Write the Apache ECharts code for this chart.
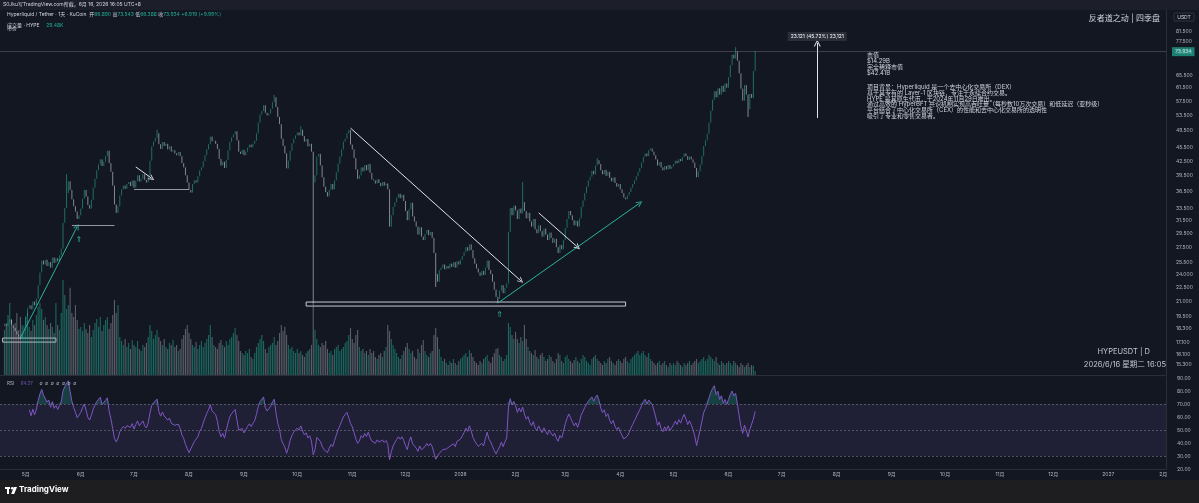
<!DOCTYPE html>
<html lang="zh">
<head>
<meta charset="UTF-8" />
<title>HYPEUSDT</title>
<script src="https://cdn.jsdelivr.net/npm/echarts@6/dist/echarts.min.js"></script>
<style>
  html, body { margin: 0; padding: 0; background: #131722; }
  #chart { width: 1199px; height: 503px; }
</style>
</head>
<body>
<div id="chart"></div>
<script>
// ---- data ----
const axisStart = '2025-04-17'
const axisEnd = '2027-02-02'
const startDate = '2025-04-19'
const firstOpen = 18.6

// daily closes, one line per month
const closes = [
  18.8, 18.6, 18.9, 19.2, 18.7, 18.4, 18.1, 17.8, 17.6, 17.4, 17.9, 18.6,
  19.5, 20.3, 20.6, 20.2, 21.0, 20.6, 21.3, 22.8, 24.3, 25.8, 25.3, 25.9, 25.1, 25.6, 24.9, 26.2, 25.5, 26.1, 25.7, 26.5, 27.4, 31.2, 33.6, 36.2, 38.4, 36.8, 35.1, 33.9, 33.0, 31.8, 32.4,
  33.5, 35.2, 36.8, 35.6, 34.1, 33.5, 35.0, 37.2, 38.9, 40.6, 41.8, 42.9, 41.5, 42.4, 43.6, 44.8, 42.1, 40.3, 37.6, 34.2, 32.8, 33.9, 35.8, 36.9, 37.6, 37.0, 37.9, 38.3, 37.5, 38.6,
  37.2, 38.5, 39.6, 38.4, 38.9, 39.8, 38.7, 38.2, 39.5, 42.6, 45.8, 46.9, 47.8, 48.9, 46.3, 45.2, 46.8, 45.9, 46.4, 45.1, 45.8, 44.6, 44.9, 44.2, 43.8, 44.5, 43.6, 42.1, 41.2, 39.6, 38.2,
  36.8, 36.3, 37.9, 38.6, 38.2, 39.4, 40.6, 41.2, 42.5, 43.8, 45.1, 46.3, 48.1, 47.0, 47.1, 46.4, 45.2, 43.0, 41.6, 42.4, 41.1, 42.8, 44.9, 46.8, 47.9, 48.6, 49.4, 47.2, 44.6, 44.1, 45.0,
  43.8, 44.6, 45.5, 46.2, 45.6, 46.4, 47.1, 48.9, 51.6, 53.8, 54.7, 56.3, 54.2, 53.5, 54.0, 55.3, 57.2, 58.6, 55.8, 53.1, 51.2, 47.6, 45.9, 44.2, 41.0, 42.6, 44.8, 46.5, 47.6, 48.4,
  49.1, 48.4, 49.8, 48.2, 46.9, 47.5, 45.8, 46.4, 44.6, 38.2, 39.6, 43.5, 44.1, 41.6, 39.2, 37.4, 36.4, 35.6, 36.8, 37.9, 36.9, 38.6, 40.2, 42.0, 43.5, 45.1, 46.9, 47.6, 48.9, 49.7, 46.2,
  45.1, 43.2, 40.8, 38.9, 39.6, 41.2, 40.4, 41.7, 40.6, 41.9, 40.1, 38.8, 38.6, 38.0, 38.8, 38.1, 37.5, 38.3, 37.6, 38.0, 36.9, 30.6, 32.4, 33.8, 34.6, 35.4, 36.1, 35.3, 35.9, 34.8,
  33.1, 31.6, 33.4, 34.5, 32.2, 31.4, 30.6, 29.4, 30.5, 29.1, 28.6, 29.5, 30.1, 29.3, 29.8, 28.9, 26.8, 24.1, 23.2, 24.6, 24.9, 25.3, 24.7, 25.1, 24.8, 25.4, 25.0, 25.6, 24.9, 25.7, 25.3,
  25.9, 26.4, 26.9, 27.6, 27.1, 28.0, 27.2, 26.1, 25.4, 24.8, 24.3, 23.9, 24.5, 24.0, 24.9, 25.8, 24.6, 24.1, 23.2, 22.3, 21.5, 21.3, 22.2, 22.8, 21.9, 22.5, 23.0, 29.8, 33.6, 32.4, 34.0,
  33.2, 31.8, 33.5, 32.7, 34.6, 33.1, 31.9, 32.8, 31.4, 30.6, 31.8, 30.2, 29.6, 30.8, 29.9, 29.1, 30.3, 29.4, 28.6, 29.7, 28.9, 28.2, 28.8, 27.6, 26.8, 27.9, 27.3, 28.6,
  30.4, 31.8, 33.1, 32.4, 31.6, 30.8, 31.5, 30.6, 31.9, 33.8, 34.9, 36.2, 37.4, 38.6, 39.3, 40.5, 39.8, 41.6, 42.7, 41.9, 40.6, 39.8, 40.7, 39.5, 40.3, 39.1, 38.4, 39.2, 38.1, 37.4, 37.9,
  36.9, 36.2, 35.4, 35.1, 35.8, 36.4, 37.2, 37.9, 38.6, 39.4, 40.3, 41.1, 42.2, 43.4, 44.2, 43.6, 44.9, 45.3, 44.6, 43.8, 42.9, 41.6, 42.3, 41.2, 40.6, 41.5, 40.8, 41.7, 40.9, 41.4,
  41.9, 42.6, 42.1, 43.0, 42.5, 43.4, 44.2, 43.6, 42.8, 43.5, 42.9, 42.2, 41.1, 39.2, 40.4, 41.8, 43.6, 45.9, 47.2, 48.8, 51.6, 54.8, 57.9, 60.4, 58.6, 61.3, 59.4, 62.1, 60.2, 62.8, 61.5,
  64.8, 68.9, 72.6, 71.2, 73.8, 70.4, 66.1, 61.2, 57.6, 62.3, 59.4, 55.2, 59.6, 58.4, 66.9, 73.934
]

// daily volume (K HYPE), one line per month
const volumes = [
  338, 375, 450, 540, 413, 360, 390, 465, 338, 435, 375, 315,
  435, 465, 360, 330, 413, 375, 450, 510, 540, 495, 413, 435, 375, 345, 390, 360, 315, 540, 375, 338, 465, 713, 600, 495, 525, 653, 465, 435, 525, 413, 345,
  360, 330, 390, 345, 315, 375, 285, 338, 390, 420, 360, 435, 330, 375, 413, 435, 345, 390, 450, 563, 465, 525, 285, 255, 225, 270, 210, 240, 195, 263,
  225, 210, 255, 195, 180, 225, 210, 240, 285, 375, 330, 270, 300, 338, 285, 255, 225, 270, 210, 195, 240, 225, 263, 210, 225, 180, 195, 270, 300, 345, 375,
  315, 270, 225, 210, 248, 195, 225, 255, 210, 240, 270, 300, 375, 285, 225, 210, 195, 240, 263, 225, 210, 255, 225, 270, 285, 315, 353, 300, 255, 180, 165,
  150, 180, 165, 195, 135, 120, 165, 210, 240, 270, 300, 255, 195, 165, 210, 225, 240, 285, 225, 255, 315, 375, 330, 360, 300, 225, 195, 210, 180, 165,
  195, 165, 180, 150, 135, 165, 180, 195, 225, 548, 338, 270, 225, 210, 240, 225, 255, 195, 165, 180, 150, 195, 210, 225, 180, 195, 210, 240, 255, 300, 353,
  270, 240, 300, 338, 210, 180, 195, 165, 180, 150, 195, 165, 180, 135, 120, 150, 165, 135, 180, 210, 375, 330, 270, 225, 195, 165, 135, 120, 150, 180,
  210, 240, 195, 165, 180, 135, 120, 195, 165, 225, 263, 180, 150, 135, 165, 180, 300, 353, 285, 195, 135, 105, 120, 90, 75, 105, 90, 120, 90, 75, 105,
  120, 135, 150, 165, 135, 188, 165, 135, 105, 90, 75, 105, 90, 120, 135, 150, 105, 90, 135, 165, 195, 203, 150, 135, 105, 120, 150, 390, 360, 300, 270,
  323, 270, 240, 285, 255, 375, 270, 210, 180, 165, 150, 188, 135, 120, 150, 165, 135, 105, 120, 150, 135, 105, 90, 120, 165, 150, 105, 90,
  135, 150, 120, 105, 90, 113, 135, 105, 90, 120, 150, 135, 105, 90, 75, 120, 135, 150, 120, 105, 90, 75, 105, 90, 120, 135, 105, 90, 75, 105, 120,
  105, 90, 120, 135, 105, 90, 120, 135, 150, 165, 180, 150, 165, 180, 150, 135, 165, 120, 105, 90, 75, 90, 105, 75, 90, 105, 75, 60, 90, 75,
  90, 75, 105, 90, 75, 60, 90, 75, 90, 105, 75, 90, 105, 120, 90, 105, 120, 135, 105, 120, 150, 135, 120, 105, 135, 90, 75, 105, 90, 75, 90,
  105, 90, 75, 105, 90, 75, 60, 90, 75, 60, 75, 90, 60, 75, 68, 29.48
]

// wick extremes that stand out from the bodies
const wickHighs = { '2025-05-24': 39.8, '2025-07-14': 49.8, '2025-09-18': 59.3, '2025-10-03': 50.7, '2026-02-05': 38.3, '2026-03-19': 43.2, '2026-06-05': 75.4 }
const wickLows = { '2025-10-10': 20.84, '2025-12-18': 22.6, '2026-01-22': 20.84, '2026-06-12': 53.1 }

const priceTicks = [81.5, 77.5, 73.5, 65.5, 61.5, 57.5, 53.5, 49.5, 45.5, 42.5, 39.5, 36.5, 33.5, 31.5, 29.5, 27.5, 25.5, 24, 22.5, 21, 19.5, 18.3, 17.1, 16.1, 15.3]
const priceRange = [14.52, 90.86]
const rsiTicks = [20, 30, 40, 50, 60, 70, 80, 90]
const rsiRange = [20, 90.77]
const rsiBandValues = [77.87, 44.66]
const volumeMax = 712

// drawings: [date, price]
const tealArrows = [
  [['2025-04-28', 17.5], ['2025-05-30', 30.6]],
  [['2026-01-22', 20.84], ['2026-04-12', 34.45]]
]
const whiteArrows = [
  [['2025-07-02', 41.3], ['2025-07-11', 39.0]],
  [['2025-10-31', 50.2], ['2026-02-04', 23.3]],
  [['2026-02-14', 32.8], ['2026-03-08', 27.6]]
]
const grayLines = [
  [['2025-05-27', 30.84], ['2025-06-20', 30.84]],
  [['2025-07-01', 36.96], ['2025-08-01', 36.96]]
]
const boxes = [
  [['2025-04-18', 17.48], ['2025-05-18', 17.13]],
  [['2025-10-06', 20.95], ['2026-04-04', 20.53]]
]
const upMarks = [['2025-05-31', 28.6], ['2026-01-23', 19.6]]
const measure = { date: '2026-07-21', from: 52.8, to: 77.0, text: '23.121 (45.72%) 23,121' }

// ---- helpers ----
function dayStr(base, n) {
  const d = new Date(base + 'T00:00:00Z')
  d.setUTCDate(d.getUTCDate() + n)
  return d.toISOString().slice(0, 10)
}
const cats = []
for (let n = 0; ; n++) {
  const s = dayStr(axisStart, n)
  if (s > axisEnd) break
  cats.push(s)
}
const catIdx = d => cats.indexOf(d)
const offset = catIdx(startDate)
const dates = closes.map((c, i) => dayStr(startDate, i))
function pad(arr) {
  const out = cats.map(() => '-')
  arr.forEach((v, i) => { out[i + offset] = v })
  return out
}

const UP = '#22ab94'
const DOWN = '#d1d4dc'
const FONT = "Inter, 'Noto Sans CJK SC', sans-serif"

const opens = closes.map((c, i) => (i === 0 ? firstOpen : closes[i - 1]))
const candles = closes.map((c, i) => {
  const o = opens[i]
  const hi = wickHighs[dates[i]] || Math.max(o, c)
  const lo = wickLows[dates[i]] || Math.min(o, c)
  return [Math.log(o), Math.log(c), Math.log(lo), Math.log(hi)]
})
const volBars = volumes.map((v, i) => ({
  value: v,
  itemStyle: { color: closes[i] >= opens[i] ? 'rgba(34,171,148,0.55)' : 'rgba(150,153,163,0.55)' }
}))

function calcRsi(values, n) {
  const out = values.map(() => '-')
  let g = 0, l = 0
  for (let i = 1; i <= n; i++) {
    const d = values[i] - values[i - 1]
    if (d > 0) g += d; else l -= d
  }
  g /= n; l /= n
  out[n] = 100 - 100 / (1 + g / l)
  for (let i = n + 1; i < values.length; i++) {
    const d = values[i] - values[i - 1]
    g = (g * (n - 1) + Math.max(d, 0)) / n
    l = (l * (n - 1) + Math.max(-d, 0)) / n
    out[i] = l === 0 ? 100 : 100 - 100 / (1 + g / l)
  }
  return out
}
const rsi = calcRsi(closes, 14)
const rsiHigh = rsi.map(v => (v === '-' ? '-' : Math.max(v, 70)))
const rsiLow = rsi.map(v => (v === '-' ? '-' : Math.min(v, 30)))
const lastRsi = rsi[rsi.length - 1]
const lastClose = closes[closes.length - 1]
const lastVol = volumes[volumes.length - 1]

const chevron = 'path://M0,10 L5,0 L10,10 L8.4,10 L5,3 L1.6,10 Z'
const pt = p => [catIdx(p[0]), Math.log(p[1])]
function segment(seg, color, arrow) {
  return [
    { coord: pt(seg[0]), symbol: 'none', lineStyle: { color, width: 1, type: 'solid' } },
    { coord: pt(seg[1]), symbol: arrow ? chevron : 'none', symbolSize: [6, 6] }
  ]
}
const drawLines = []
tealArrows.forEach(s => drawLines.push(segment(s, '#2bb3a0', true)))
whiteArrows.forEach(s => drawLines.push(segment(s, '#e0e3eb', true)))
grayLines.forEach(s => drawLines.push(segment(s, '#9598a1', false)))
drawLines.push([
  { coord: pt([measure.date, measure.from]), symbol: 'none', lineStyle: { color: '#e0e3eb', width: 1, type: 'solid' } },
  {
    coord: pt([measure.date, measure.to]), symbol: chevron, symbolSize: [7, 7],
    label: { show: true, position: 'end', distance: 2, formatter: measure.text, color: '#ffffff', fontSize: 5, fontFamily: FONT, backgroundColor: '#2a2e39', padding: [2, 3] }
  }
])
drawLines.push({
  yAxis: Math.log(lastClose),
  lineStyle: { color: '#787b86', width: 0.6, type: 'solid', opacity: 0.7 },
  label: { show: true, position: 'end', distance: 6, formatter: lastClose.toFixed(3), color: '#ffffff', fontSize: 5, fontFamily: FONT, backgroundColor: UP, padding: [2, 3] }
})

const chartDom = document.getElementById('chart')
const chart = echarts.init(chartDom, null, { renderer: 'canvas' })

const axisLabelStyle = { color: '#b2b5be', fontSize: 5, fontFamily: FONT }

const option = {
  backgroundColor: '#131722',
  animation: false,
  grid: [
    { left: 0, top: 10, width: 1166, height: 365 },
    { left: 0, top: 280, width: 1166, height: 95 },
    { left: 0, top: 377, width: 1166, height: 92 }
  ],
  xAxis: [0, 1, 2].map(k => ({
    type: 'category',
    gridIndex: k,
    data: cats,
    axisLine: { show: k !== 1, lineStyle: { color: '#2a2e39' } },
    axisTick: { show: false },
    splitLine: { show: false },
    axisLabel: k === 2 ? Object.assign({
      margin: 3,
      interval: (i, v) => v.slice(8) === '01',
      formatter: v => (v.slice(5, 7) === '01' ? v.slice(0, 4) : parseInt(v.slice(5, 7), 10) + '月')
    }, axisLabelStyle) : { show: false }
  })),
  yAxis: [
    {
      type: 'value', gridIndex: 0, position: 'right',
      min: Math.log(priceRange[0]), max: Math.log(priceRange[1]),
      axisLine: { show: true, lineStyle: { color: '#2a2e39' } },
      axisTick: { show: false }, splitLine: { show: false },
      axisLabel: Object.assign({ customValues: priceTicks.map(Math.log), formatter: v => Math.exp(v).toFixed(3), margin: 10 }, axisLabelStyle)
    },
    { type: 'value', gridIndex: 1, min: 0, max: volumeMax, show: false },
    {
      type: 'value', gridIndex: 2, position: 'right', min: rsiRange[0], max: rsiRange[1],
      axisLine: { show: true, lineStyle: { color: '#2a2e39' } },
      axisTick: { show: false }, splitLine: { show: false },
      axisLabel: Object.assign({ customValues: rsiTicks, formatter: v => v.toFixed(2), margin: 11 }, axisLabelStyle)
    }
  ],
  series: [
    {
      type: 'bar', xAxisIndex: 1, yAxisIndex: 1, data: pad(volBars), barWidth: 1.1, z: 1,
      markLine: {
        silent: true, symbol: ['none', 'none'],
        data: [{ yAxis: lastVol, lineStyle: { opacity: 0 }, label: { show: true, position: 'end', distance: 6, formatter: '29.48K', color: '#ffffff', fontSize: 5, fontFamily: FONT, backgroundColor: UP, padding: [2, 3] } }]
      }
    },
    {
      type: 'candlestick', xAxisIndex: 0, yAxisIndex: 0, data: pad(candles), barWidth: 1, z: 3,
      itemStyle: { color: UP, color0: DOWN, borderColor: UP, borderColor0: DOWN, borderWidth: 0.6 },
      markLine: { silent: true, animation: false, symbol: ['none', 'none'], data: drawLines },
      markArea: {
        silent: true,
        data: boxes.map(b => [
          { coord: pt(b[0]), itemStyle: { color: 'rgba(0,0,0,0)', borderColor: '#c8cbd3', borderWidth: 1 } },
          { coord: pt(b[1]) }
        ])
      },
      markPoint: {
        silent: true,
        data: upMarks.map(m => ({ coord: pt(m), symbolSize: 0, label: { show: true, formatter: '⇑', color: '#2bb3a0', fontSize: 8, fontFamily: 'DejaVu Sans' } }))
      }
    },
    {
      type: 'line', xAxisIndex: 2, yAxisIndex: 2, data: pad(rsi), showSymbol: false, symbol: 'none',
      lineStyle: { color: '#7e57c2', width: 1 }, z: 3,
      markArea: { silent: true, data: [[{ yAxis: 30, itemStyle: { color: 'rgba(126,87,194,0.12)' } }, { yAxis: 70 }]] },
      markLine: {
        silent: true, symbol: ['none', 'none'],
        data: [70, 50, 30].map(v => ({ yAxis: v, lineStyle: { color: '#787b86', width: 0.6, type: [2, 2] }, label: { show: false } }))
          .concat(rsiBandValues.map(v => ({ yAxis: v, lineStyle: { opacity: 0 }, label: { show: true, position: 'end', distance: 5, formatter: v.toFixed(2), color: '#131722', fontSize: 5, fontFamily: FONT, backgroundColor: '#ffffff', padding: [2, 3] } })))
          .concat([{ yAxis: lastRsi, lineStyle: { opacity: 0 }, label: { show: true, position: 'end', distance: 5, formatter: lastRsi.toFixed(2), color: '#ffffff', fontSize: 5, fontFamily: FONT, backgroundColor: '#7e57c2', padding: [2, 3] } }])
      }
    },
    {
      type: 'line', xAxisIndex: 2, yAxisIndex: 2, data: pad(rsiHigh), showSymbol: false, symbol: 'none',
      lineStyle: { opacity: 0 }, areaStyle: { origin: 70, color: 'rgba(34,171,148,0.4)' }, z: 2
    },
    {
      type: 'line', xAxisIndex: 2, yAxisIndex: 2, data: pad(rsiLow), showSymbol: false, symbol: 'none',
      lineStyle: { opacity: 0 }, areaStyle: { origin: 30, color: 'rgba(242,54,69,0.3)' }, z: 2
    }
  ],
  graphic: [
    { type: 'rect', shape: { x: 0, y: 0, width: 1199, height: 10 }, style: { fill: '#1c1f2a' }, silent: true, z: 10 },
    { type: 'rect', shape: { x: 0, y: 480, width: 1199, height: 23 }, style: { fill: '#1e1e20' }, silent: true, z: 10 },
    { type: 'text', x: 3, y: 2, style: { text: 'S0Jku写TradingView.com所截，6月 16, 2026 16:05 UTC+8', fill: '#d1d4dc', fontSize: 5, fontFamily: FONT }, z: 11 },
    {
      type: 'text', x: 7, y: 12, z: 11,
      style: {
        text: '{n|Hyperliquid / Tether · 1天 · KuCoin}  {n|开}{v|66.890} {n|高}{v|73.543} {n|低}{v|66.388} {n|收}{v|73.934} {v|+6.919 (+9.99%)}',
        fontSize: 5, fontFamily: FONT,
        rich: { n: { fill: '#d1d4dc', fontSize: 5, fontFamily: FONT }, v: { fill: '#22ab94', fontSize: 5, fontFamily: FONT } }
      }
    },
    {
      type: 'text', x: 7, y: 19, z: 11,
      style: { text: '{n|成交量 · HYPE}  {v|29.48K}', rich: { n: { fill: '#d1d4dc', fontSize: 5, fontFamily: FONT }, v: { fill: '#22ab94', fontSize: 5, fontFamily: FONT } } }
    },
    { type: 'text', x: 7, y: 26, z: 11, style: { text: '市价', fill: '#d1d4dc', fontSize: 5, fontFamily: FONT } },
    { type: 'text', x: 1160, y: 15, z: 11, style: { text: '反者道之动 | 四季盘', fill: '#d1d4dc', fontSize: 8, fontFamily: FONT, align: 'right' } },
    { type: 'rect', shape: { x: 1174, y: 13, width: 20, height: 8, r: 1 }, style: { fill: '#131722', stroke: '#434651', lineWidth: 0.6 }, z: 11 },
    { type: 'text', x: 1184, y: 14.5, z: 12, style: { text: 'USDT', fill: '#d1d4dc', fontSize: 5, fontFamily: FONT, align: 'center' } },
    {
      type: 'text', x: 867, y: 52, z: 11,
      style: { text: '市值\n$14.29B\n完全稀释市值\n$42.41B', fill: '#d1d4dc', fontSize: 6, lineHeight: 6, fontFamily: FONT }
    },
    {
      type: 'text', x: 867, y: 84, z: 11,
      style: {
        text: '项目背景：Hyperliquid 是一个去中心化交易所（DEX）\n基于其专有的 Layer-1 区块链，专注于永续合约交易。\nHYPE 是其原生代币，于2024年11月29日推出。\n通过高效的 HyperBFT 共识机制实现高吞吐量（每秒数10万次交易）和低延迟（亚秒级）\n平台结合了中心化交易所（CEX）的性能和去中心化交易所的透明性\n吸引了专业和零售交易者。',
        fill: '#d1d4dc', fontSize: 6, lineHeight: 5.9, fontFamily: FONT
      }
    },
    { type: 'text', x: 1150, y: 348, z: 11, style: { text: 'HYPEUSDT | D', fill: '#c4c7cf', fontSize: 7.5, fontFamily: FONT, align: 'right' } },
    { type: 'text', x: 1166, y: 361, z: 11, style: { text: '2026/6/16 星期二 16:05', fill: '#c4c7cf', fontSize: 7.5, fontFamily: FONT, align: 'right' } },
    {
      type: 'text', x: 7, y: 378, z: 11,
      style: { text: '{n|RSI}  {v|' + lastRsi.toFixed(2) + '}  {n|∅  ∅  ∅  ∅  ∅  ∅  ∅}', rich: { n: { fill: '#b2b5be', fontSize: 4.5, fontFamily: FONT }, v: { fill: '#7e57c2', fontSize: 4.5, fontFamily: FONT } } }
    },
    { type: 'rect', shape: { x: 5, y: 487, width: 5, height: 2 }, style: { fill: '#ffffff' }, z: 11 },
    { type: 'rect', shape: { x: 7, y: 487, width: 2, height: 7 }, style: { fill: '#ffffff' }, z: 11 },
    { type: 'circle', shape: { cx: 12.2, cy: 488.3, r: 1.3 }, style: { fill: '#ffffff' }, z: 11 },
    { type: 'polygon', shape: { points: [[13.8, 487], [17, 487], [14.2, 494], [11.2, 494]] }, style: { fill: '#ffffff' }, z: 11 },
    { type: 'text', x: 19, y: 486, z: 11, style: { text: 'TradingView', fill: '#ffffff', fontSize: 8, fontWeight: 'bold', fontFamily: FONT } }
  ]
}
chart.setOption(option)
</script>
</body>
</html>
